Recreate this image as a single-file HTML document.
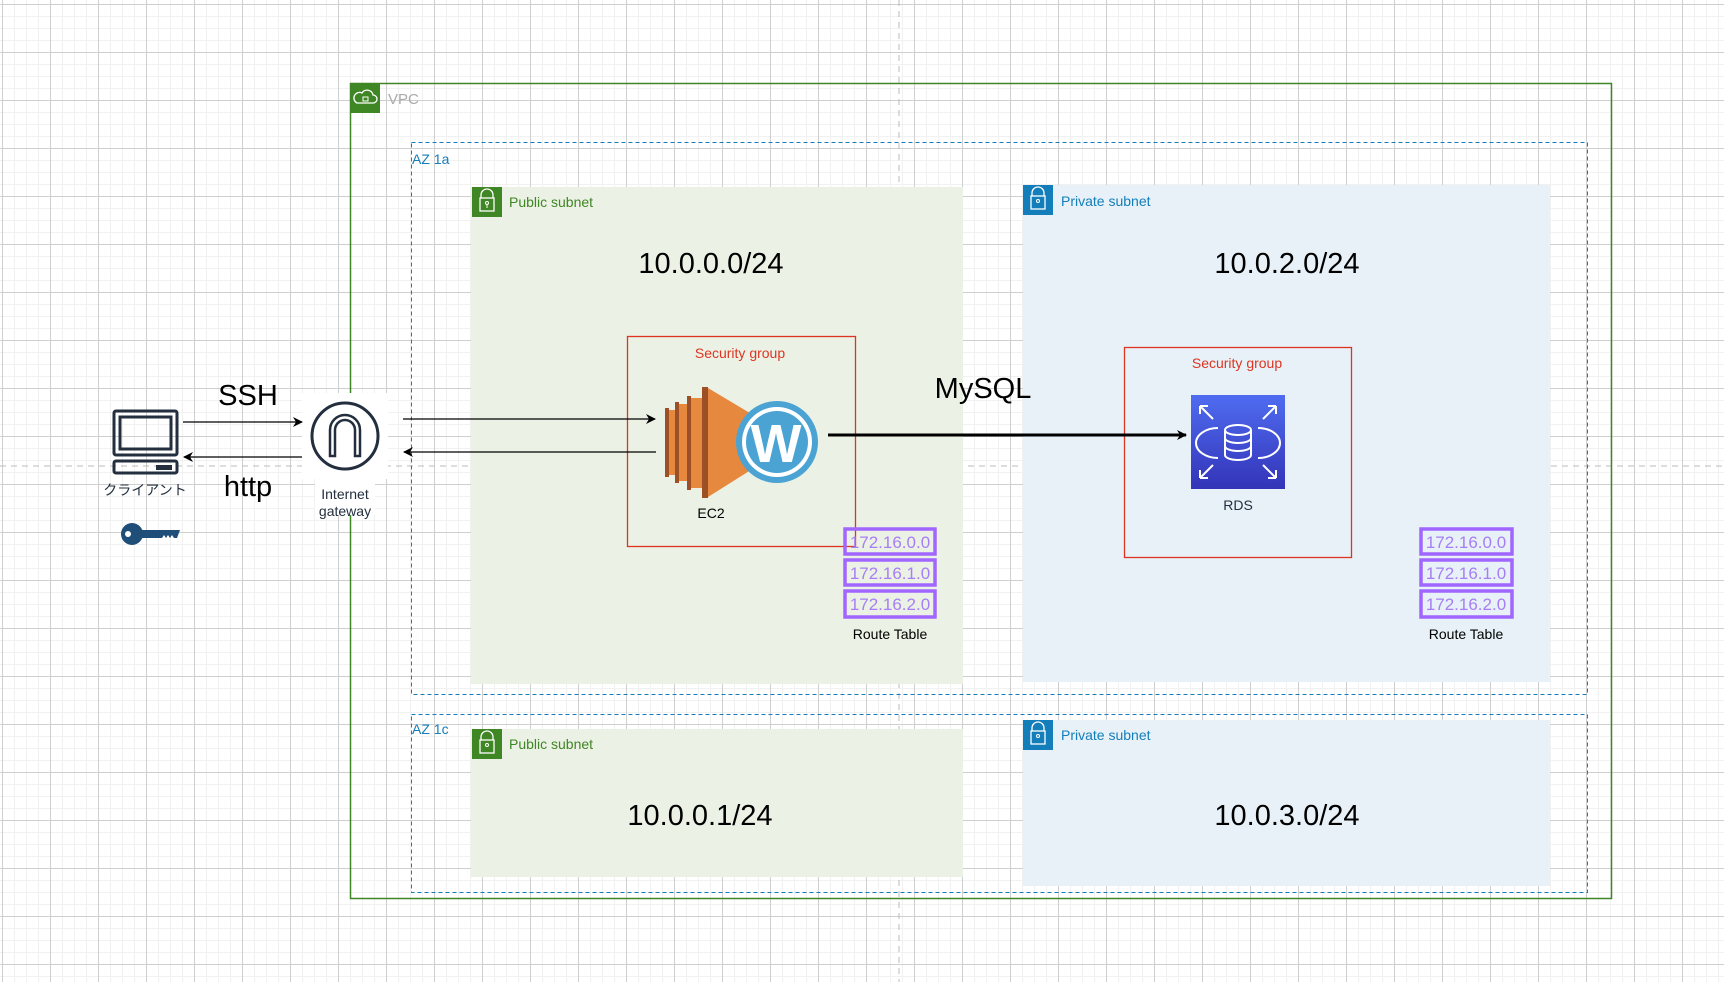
<!DOCTYPE html>
<html><head><meta charset="utf-8"><style>
html,body{margin:0;padding:0;background:#fff;width:1724px;height:982px;overflow:hidden}
svg{display:block}
text{font-family:"Liberation Sans","Noto Sans CJK JP",sans-serif}
</style></head><body>
<svg width="1724" height="982" viewBox="0 0 1724 982" xmlns="http://www.w3.org/2000/svg">
<defs>
<pattern id="minor" width="12" height="12" patternUnits="userSpaceOnUse" x="2" y="4">
<path d="M0 0H12M0 0V12" stroke="#f1f1f1" stroke-width="2" fill="none"/>
</pattern>
<pattern id="major" width="48" height="48" patternUnits="userSpaceOnUse" x="2" y="4">
<path d="M0 0.5H48M0.5 0V48" stroke="#cfcfcf" stroke-width="1" fill="none"/>
</pattern>
<linearGradient id="rdsg" x1="0" y1="0" x2="0" y2="1"><stop offset="0" stop-color="#4f6cf0"/><stop offset="1" stop-color="#3334b8"/></linearGradient>
<marker id="ah" markerWidth="10" markerHeight="10" refX="9" refY="5" orient="auto" markerUnits="userSpaceOnUse"><path d="M0 0L10 5L0 10L3 5Z" fill="#000"/></marker>
</defs>
<rect width="1724" height="982" fill="url(#minor)"/>
<rect width="1724" height="982" fill="url(#major)"/>
<line x1="899" y1="0" x2="899" y2="982" stroke="#bbb" stroke-dasharray="6 5"/>
<line x1="0" y1="466" x2="1724" y2="466" stroke="#bbb" stroke-dasharray="6 5"/>

<!-- VPC -->
<rect x="350.5" y="83.5" width="1261" height="815" fill="none" stroke="#3f8624" stroke-width="1.5"/>
<rect x="350" y="83" width="30" height="30" fill="#3f8624"/>
<path d="M357 103 h16 a4 4 0 0 0 0-8 a6 6 0 0 0-11-2 a4 4 0 0 0-5 10z" fill="none" stroke="#fff" stroke-width="1.3"/>
<rect x="363" y="97" width="5" height="4" fill="none" stroke="#fff"/>
<text x="388" y="104" font-size="15" fill="#aaa">VPC</text>

<!-- AZ boxes -->
<rect x="411.5" y="142.5" width="1176" height="552" fill="none" stroke="#147eba" stroke-dasharray="4 3"/>
<text x="412" y="164" font-size="14" fill="#147eba">AZ 1a</text>
<rect x="411.5" y="714.5" width="1176" height="178" fill="none" stroke="#147eba" stroke-dasharray="4 3"/>
<text x="412" y="734" font-size="14" fill="#147eba">AZ 1c</text>

<!-- subnets -->
<rect x="471" y="187" width="492" height="497" fill="#ebf1e5"/>
<rect x="1023" y="185" width="527" height="497" fill="#e7f1f7"/>
<rect x="471" y="729" width="492" height="148" fill="#ebf1e5"/>
<rect x="1023" y="720" width="527" height="166" fill="#e7f1f7"/>

<g id="lockg">
<rect x="472" y="187" width="30" height="30" fill="#3f8624"/>
<path d="M481 198 v-3 a6 6 0 0 1 12 0 v3" fill="none" stroke="#fff" stroke-width="1.3"/>
<rect x="480" y="198" width="14" height="13" fill="none" stroke="#fff" stroke-width="1.3"/>
<circle cx="487" cy="203" r="1.5" fill="none" stroke="#fff"/><line x1="487" y1="204.5" x2="487" y2="208" stroke="#fff"/>
</g>
<text x="509" y="207" font-size="14" fill="#3f8624">Public subnet</text>
<g transform="translate(0,542)">
<rect x="472" y="187" width="30" height="30" fill="#3f8624"/>
<path d="M481 198 v-3 a6 6 0 0 1 12 0 v3" fill="none" stroke="#fff" stroke-width="1.3"/>
<rect x="480" y="198" width="14" height="13" fill="none" stroke="#fff" stroke-width="1.3"/>
<circle cx="487" cy="203" r="1.5" fill="none" stroke="#fff"/>
</g>
<text x="509" y="749" font-size="14" fill="#3f8624">Public subnet</text>
<g transform="translate(551,-2)">
<rect x="472" y="187" width="30" height="30" fill="#147eba"/>
<path d="M481 198 v-3 a6 6 0 0 1 12 0 v3" fill="none" stroke="#fff" stroke-width="1.3"/>
<rect x="480" y="198" width="14" height="13" fill="none" stroke="#fff" stroke-width="1.3"/>
<circle cx="487" cy="203" r="1.5" fill="none" stroke="#fff"/>
</g>
<text x="1061" y="206" font-size="14" fill="#147eba">Private subnet</text>
<g transform="translate(551,533)">
<rect x="472" y="187" width="30" height="30" fill="#147eba"/>
<path d="M481 198 v-3 a6 6 0 0 1 12 0 v3" fill="none" stroke="#fff" stroke-width="1.3"/>
<rect x="480" y="198" width="14" height="13" fill="none" stroke="#fff" stroke-width="1.3"/>
<circle cx="487" cy="203" r="1.5" fill="none" stroke="#fff"/>
</g>
<text x="1061" y="740" font-size="14" fill="#147eba">Private subnet</text>

<!-- CIDRs -->
<g font-size="29" fill="#000" text-anchor="middle">
<text x="711" y="273">10.0.0.0/24</text>
<text x="1287" y="273">10.0.2.0/24</text>
<text x="700" y="825">10.0.0.1/24</text>
<text x="1287" y="825">10.0.3.0/24</text>
<text x="983" y="398">MySQL</text>
<text x="248" y="405">SSH</text>
<text x="248" y="496">http</text>
</g>

<!-- Security groups -->
<rect x="627.5" y="336.5" width="228" height="210" fill="none" stroke="#dd3522" stroke-width="1.3"/>
<text x="740" y="358" font-size="14" fill="#dd3522" text-anchor="middle">Security group</text>
<rect x="1124.5" y="347.5" width="227" height="210" fill="none" stroke="#dd3522" stroke-width="1.3"/>
<text x="1237" y="368" font-size="14" fill="#dd3522" text-anchor="middle">Security group</text>

<!-- EC2 -->
<rect x="665" y="408" width="4" height="69" fill="#9d5025"/><rect x="669" y="410" width="6" height="65" fill="#e7883f"/>
<rect x="675" y="402" width="4" height="81" fill="#9d5025"/><rect x="679" y="404" width="8" height="77" fill="#e7883f"/>
<rect x="687" y="396" width="4" height="94" fill="#9d5025"/><rect x="691" y="398" width="11" height="90" fill="#e7883f"/>
<rect x="702" y="387" width="6" height="111" fill="#9d5025"/>
<polygon points="708,388 770,425 770,458 708,497" fill="#e7883f"/>
<circle cx="777" cy="442" r="41" fill="#4aa3d3"/>
<circle cx="777" cy="442" r="35" fill="#fff"/>
<circle cx="777" cy="442" r="31" fill="#4aa3d3"/>
<text x="776" y="462" font-family="Liberation Serif,serif" font-weight="bold" font-size="54" fill="#fff" text-anchor="middle">W</text>
<text x="711" y="518" font-size="14" fill="#000" text-anchor="middle">EC2</text>

<!-- RDS -->
<rect x="1191" y="395" width="94" height="94" fill="url(#rdsg)"/>
<g fill="none" stroke="#fff" stroke-width="2">
<ellipse cx="1238" cy="430" rx="13" ry="5"/>
<path d="M1225 430v25a13 5 0 0 0 26 0v-25M1225 438a13 5 0 0 0 26 0M1225 446a13 5 0 0 0 26 0"/>
<path d="M1218 428a22 15 0 0 0 0 30M1258 428a22 15 0 0 1 0 30"/>
<path d="M1200 406l13 13M1200 406v8M1200 406h8M1276 406l-13 13M1276 406v8M1276 406h-8M1200 478l13-13M1200 478v-8M1200 478h8M1276 478l-13-13M1276 478v-8M1276 478h-8"/>
</g>
<text x="1238" y="510" font-size="14" fill="#232f3e" text-anchor="middle">RDS</text>

<!-- Route tables -->
<g font-size="17" fill="#a77ef5" text-anchor="middle" stroke-width="3.5">
<rect x="845" y="529" width="90" height="25" fill="none" stroke="#a166ff"/>
<rect x="845" y="560" width="90" height="25" fill="none" stroke="#a166ff"/>
<rect x="845" y="591" width="90" height="26" fill="none" stroke="#a166ff"/>
<text x="890" y="548">172.16.0.0</text><text x="890" y="579">172.16.1.0</text><text x="890" y="610">172.16.2.0</text>
<rect x="1421" y="529" width="91" height="25" fill="none" stroke="#a166ff"/>
<rect x="1421" y="560" width="91" height="25" fill="none" stroke="#a166ff"/>
<rect x="1421" y="591" width="91" height="26" fill="none" stroke="#a166ff"/>
<text x="1466" y="548">172.16.0.0</text><text x="1466" y="579">172.16.1.0</text><text x="1466" y="610">172.16.2.0</text>
</g>
<text x="890" y="639" font-size="14" fill="#000" text-anchor="middle">Route Table</text>
<text x="1466" y="639" font-size="14" fill="#000" text-anchor="middle">Route Table</text>

<!-- Client -->
<g fill="none" stroke="#232f3e" stroke-width="3">
<rect x="114" y="411" width="63" height="44" rx="2"/>
<rect x="120" y="417" width="51" height="32"/>
<rect x="114" y="461" width="63" height="12" rx="2"/>
</g>
<rect x="156" y="465" width="16" height="5" fill="#232f3e"/>
<text x="145" y="495" font-size="14" fill="#232f3e" text-anchor="middle">クライアント</text>
<g fill="#1f4e79">
<circle cx="132" cy="534" r="11"/>
<path d="M140 530h40l-3 8h-3l-2-3l-2 3l-2-3l-2 3l-2-3l-2 3h-22z"/>
</g>
<circle cx="128" cy="534" r="3" fill="#fff"/>

<!-- IGW -->
<rect x="302" y="393" width="86" height="86" fill="#fff"/>
<circle cx="345" cy="436" r="33" fill="none" stroke="#232f3e" stroke-width="3"/>
<path d="M330 456v-26a15 15 0 0 1 30 0v26h-5v-26a10 10 0 0 0-20 0v26z" fill="none" stroke="#232f3e" stroke-width="2.5"/>
<rect x="315" y="479" width="60" height="36" fill="#fff"/>
<text x="345" y="499" font-size="14" fill="#232f3e" text-anchor="middle">Internet</text>
<text x="345" y="516" font-size="14" fill="#232f3e" text-anchor="middle">gateway</text>

<!-- arrows -->
<g stroke="#000" stroke-width="1.3" fill="none">
<line x1="183" y1="422" x2="302" y2="422" marker-end="url(#ah)"/>
<line x1="302" y1="457" x2="184" y2="457" marker-end="url(#ah)"/>
<line x1="403" y1="419" x2="655" y2="419" marker-end="url(#ah)"/>
<line x1="656" y1="452" x2="404" y2="452" marker-end="url(#ah)"/>
<line x1="828" y1="435" x2="1186" y2="435" stroke-width="3" marker-end="url(#ah)"/>
</g>
</svg>
</body></html>
